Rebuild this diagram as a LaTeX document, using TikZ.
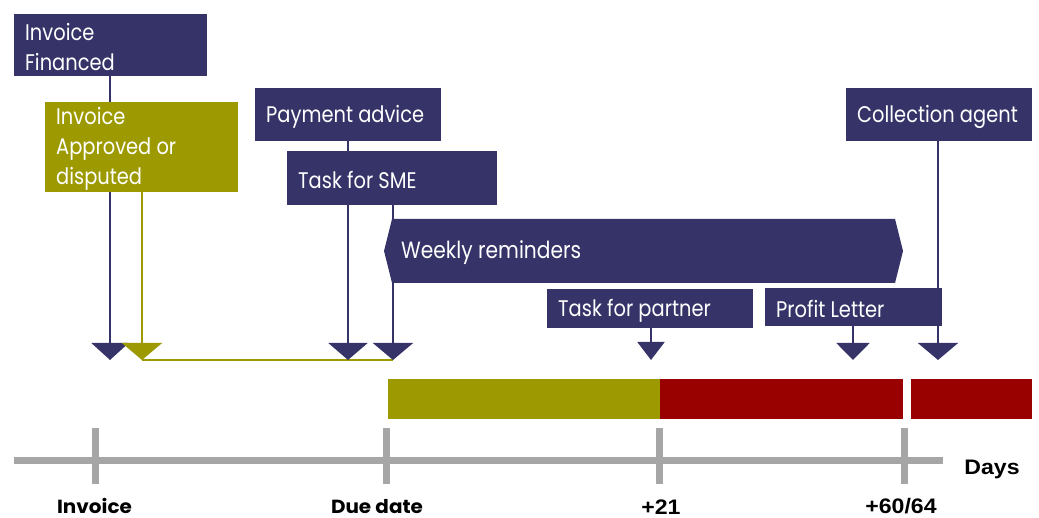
\documentclass[tikz,border=0pt]{standalone}
\usepackage{fontspec}
\usetikzlibrary{arrows.meta}
\newfontfamily\boxfont{Poppins}[FakeStretch=0.86]
\newfontfamily\boldlabelfont{Poppins Bold}[FakeStretch=1.05]
\newfontfamily\numfont{Liberation Sans Bold}[FakeStretch=1.1]
\definecolor{navy}{RGB}{53,51,104}
\definecolor{olive}{RGB}{156,154,0}
\definecolor{darkred}{RGB}{153,0,0}
\definecolor{axisgray}{RGB}{166,166,166}
\tikzset{
  box/.style={fill=#1, anchor=north west, inner sep=0pt},
  boxtext/.style={text=white, anchor=west, align=left, inner sep=0pt,
    font=\boxfont\fontsize{22.6}{30}\selectfont},
  stem/.style={draw=#1, line width=2pt},
  droparrow/.style n args={2}{-{Triangle[width=#1pt,length=#2pt]}},
  axisline/.style={draw=axisgray, line width=7pt},
  ticklabel/.style={anchor=base, inner sep=0pt, text depth=0pt,
    font=\boldlabelfont\fontsize{19}{20}\selectfont},
  numlabel/.style={anchor=base, inner sep=0pt, text depth=0pt,
    font=\numfont\fontsize{21}{22}\selectfont},
}
% a filled box with its caption set 11pt in from the left edge
\newcommand\eventbox[6]{%
  \node[box=#1, minimum width=#4pt, minimum height=#5pt] (#2) at (#3) {};
  \node[boxtext] (#2T) at ([xshift=11pt,yshift=-2pt]#2.west) {#6};
}
\begin{document}
\begin{tikzpicture}[x=1pt,y=-1pt]
\useasboundingbox (0,0) rectangle (1039,518);

% arrow tips above the time line
\coordinate (tInv)  at (110,360);
\coordinate (tApp)  at (142,360);
\coordinate (tPay)  at (348,360);
\coordinate (tSME)  at (393,360);
\coordinate (tPart) at (651,360);
\coordinate (tProf) at (853,360);
\coordinate (tColl) at (938,360);

% upper event boxes
\eventbox{navy}{fin}{14,14}{193}{62}{Invoice\\Financed}
\eventbox{navy}{pay}{255,88}{186}{53}{Payment advice}
\eventbox{navy}{coll}{846,88}{186}{53}{Collection agent}

% connectors; the stems pass behind the boxes drawn afterwards
\draw[stem=olive] (tApp) -- (tSME);
\draw[stem=navy, droparrow={37}{17}] (fin.south -| tInv) -- (tInv);
\draw[stem=navy, droparrow={39}{17}] (pay.south -| tPay) -- (tPay);
\draw[stem=navy, droparrow={40}{17}] (coll.south -| tColl) -- (tColl);

\eventbox{olive}{app}{45,102}{193}{90}{Invoice\\Approved or\\disputed}
\eventbox{navy}{sme}{287,151}{210}{54}{Task for SME}
\draw[stem=olive, droparrow={40}{17}, fill=olive] (app.south -| tApp) -- (tApp);
\draw[stem=navy, droparrow={40}{17}] (sme.south -| tSME) -- (tSME);

% weekly reminders band
\fill[navy] (384,251) -- (392,219) -- (895,219) -- (903,251) -- (895,283) -- (392,283) -- cycle;
\node[boxtext, font=\boxfont\fontsize{23.5}{30}\selectfont] (weekly) at (401,253) {Weekly reminders};

\eventbox{navy}{part}{547,289}{206}{39}{Task for partner}
\eventbox{navy}{prof}{765,288}{177}{38}{Profit Letter}
\draw[stem=navy, droparrow={27}{18}] (part.south -| tPart) -- (tPart);
\draw[stem=navy, droparrow={33}{17}] (prof.south -| tProf) -- (tProf);

% status bar
\fill[olive] (388,379) rectangle (660,419);
\fill[darkred] (660,379) rectangle (903,419);
\fill[darkred] (911,379) rectangle (1032,419);

% time axis
\draw[axisline] (14,460) -- (943,460);
\foreach \x in {95,386,659,904}
  \draw[axisline] (\x,428) -- (\x,484);

\node[ticklabel] (lInv) at (94.5,513) {Invoice};
\node[ticklabel] (lDue) at (377,513) {Due date};
\node[numlabel] (l21) at (661,514) {+21};
\node[numlabel] (l60) at (901,513) {+60/64};
\node[numlabel] (lDays) at (992,475) {Days};
\end{tikzpicture}
\end{document}
